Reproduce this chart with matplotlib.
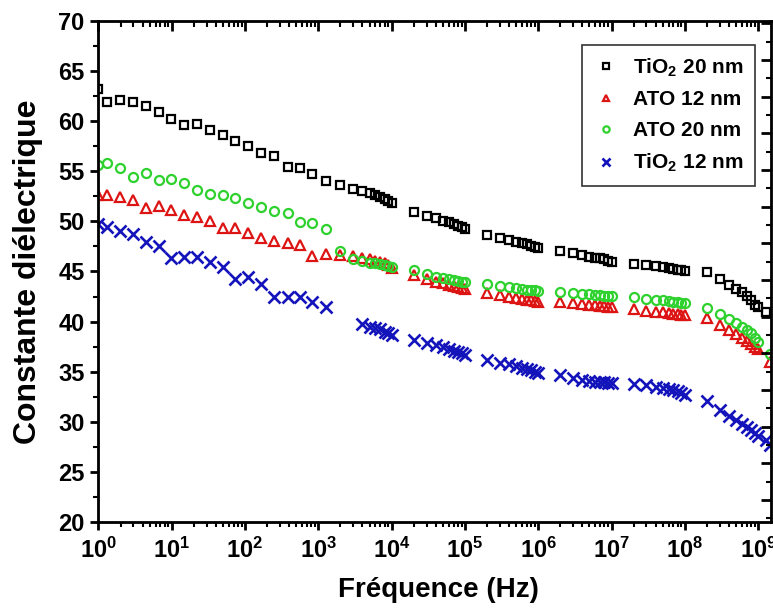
import numpy as np
import matplotlib
matplotlib.use("Agg")
import matplotlib.pyplot as plt
from matplotlib.ticker import MultipleLocator, LogLocator, NullFormatter

plt.rcParams['font.family'] = ['Liberation Sans', 'DejaVu Sans']
plt.rcParams['font.weight'] = 'bold'
plt.rcParams['mathtext.fontset'] = 'custom'
plt.rcParams['mathtext.rm'] = 'Liberation Sans:bold'
plt.rcParams['mathtext.it'] = 'Liberation Sans:bold'
plt.rcParams['mathtext.bf'] = 'Liberation Sans:bold'
plt.rcParams['mathtext.default'] = 'rm'

nan = np.nan

# fréquences (Hz)
freq = [1, 1.32, 1.94, 2.95, 4.44, 6.7, 9.85, 14.6, 21.8, 33, 50, 74, 111, 165, 250, 380, 560, 830, 1260,
        2e3, 3e3, 4e3, 5e3, 6e3, 7e3, 8e3, 9e3, 1e4,
        2e4, 3e4, 4e4, 5e4, 6e4, 7e4, 8e4, 9e4, 1e5,
        2e5, 3e5, 4e5, 5e5, 6e5, 7e5, 8e5, 9e5, 1e6,
        2e6, 3e6, 4e6, 5e6, 6e6, 7e6, 8e6, 9e6, 1e7,
        2e7, 3e7, 4e7, 5e7, 6e7, 7e7, 8e7, 9e7, 1e8,
        2e8, 3e8, 4e8, 5e8, 6e8, 7e8, 8e8, 9e8, 1e9,
        1.3e9, 1.45e9]

tio2_20 = [63.2, 61.95, 62.1, 61.9, 61.5, 60.9, 60.2, 59.6, 59.7, 59.1, 58.65, 58.0, 57.5, 56.8, 56.5, 55.4, 55.3, 54.7, 54.0,
           53.6, 53.2, 53.0, 52.8, 52.6, 52.4, 52.2, 52.0, 51.8,
           50.97, 50.57, 50.31, 50.07, 49.91, 49.74, 49.57, 49.47, 49.24,
           48.64, 48.31, 48.14, 47.97, 47.81, 47.71, 47.57, 47.47, 47.37,
           47.08, 46.81, 46.65, 46.48, 46.38, 46.31, 46.21, 46.05, 45.98,
           45.72, 45.6, 45.5, 45.4, 45.32, 45.25, 45.18, 45.1, 45.05,
           44.98, 44.25, 43.65, 43.25, 42.92, 42.55, 42.2, 41.7, 41.5,
           41.0, nan]

ato_12 = [52.63, 52.63, 52.4, 52.14, 51.3, 51.54, 51.14, 50.64, 50.4, 50.07, 49.3, 49.3, 48.8, 48.3, 48.07, 47.8, 47.64, 46.55, 46.75,
          46.6, 46.5, 46.3, 46.2, 46.0, 45.9, 45.8, 45.6, 45.3,
          44.65, 44.3, 44.0, 43.85, 43.7, 43.6, 43.5, 43.4, 43.3,
          42.82, 42.65, 42.5, 42.4, 42.3, 42.2, 42.15, 42.1, 42.0,
          42.0, 41.85, 41.8, 41.7, 41.65, 41.6, 41.55, 41.5, 41.45,
          41.25, 41.1, 41.0, 40.95, 40.9, 40.8, 40.75, 40.7, 40.65,
          40.33, 39.66, 39.16, 38.8, 38.4, 38.06, 37.8, 37.5, 37.3,
          nan, 36.0]

ato_20 = [55.6, 55.8, 55.3, 54.46, 54.8, 54.13, 54.2, 53.87, 53.13, 52.73, 52.63, 52.3, 51.87, 51.47, 51.07, 50.8, 49.97, 49.8, 49.24,
          47.08, 46.22, 46.0, 45.88, 45.8, 45.75, 45.65, 45.55, 45.48,
          45.15, 44.72, 44.5, 44.35, 44.25, 44.15, 44.05, 44.0, 43.95,
          43.72, 43.55, 43.42, 43.32, 43.25, 43.18, 43.15, 43.12, 43.08,
          43.0, 42.85, 42.78, 42.72, 42.67, 42.63, 42.6, 42.57, 42.55,
          42.42, 42.3, 42.2, 42.15, 42.1, 42.0, 41.95, 41.9, 41.83,
          41.33, 40.76, 40.26, 39.9, 39.5, 39.2, 38.83, 38.33, 38.0,
          nan, 36.8]

tio2_12 = [49.7, 49.4, 49.07, 48.74, 47.97, 47.55, 46.3, 46.4, 46.4, 45.98, 45.4, 44.3, 44.48, 43.8, 42.5, 42.42, 42.42, 42.0, 41.5,
           nan, nan, 39.75, 39.5, 39.35, 39.25, 39.0, 38.85, 38.65,
           38.16, 37.83, 37.66, 37.5, 37.23, 37.1, 36.93, 36.83, 36.67,
           36.17, 35.9, 35.77, 35.57, 35.4, 35.27, 35.17, 35.0, 34.84,
           34.67, 34.34, 34.17, 34.1, 34.0, 34.0, 33.94, 33.9, 33.84,
           33.8, 33.65, 33.5, 33.4, 33.3, 33.2, 33.05, 32.85, 32.65,
           32.1, 31.2, 30.6, 30.2, 29.8, 29.5, 29.2, 28.9, 28.6,
           28.2, 27.7]

fig = plt.figure(figsize=(7.73, 6.13), dpi=100)
ax = fig.add_axes([0.1274, 0.1485, 0.8700, 0.8172])

ax.plot(freq, tio2_20, ls='none', marker='s', ms=5.8, mfc='none', mec='black', mew=1.6, label='TiO$_2$ 20 nm')
ax.plot(freq, ato_12, ls='none', marker='^', ms=7, mfc='none', mec='#dd1414', mew=1.6, label='ATO 12 nm')
ax.plot(freq, ato_20, ls='none', marker='o', ms=6.5, mfc='none', mec='#2ed12e', mew=1.6, label='ATO 20 nm')
ax.plot(freq, tio2_12, ls='none', marker='x', ms=8.5, mec='#1414bb', mew=1.9, label='TiO$_2$ 12 nm')

ax.set_xscale('log')
ax.set_xlim(1, 1.5e9)
ax.set_ylim(20, 70)
ax.xaxis.set_major_locator(LogLocator(base=10, numticks=20))
ax.xaxis.set_minor_locator(LogLocator(base=10, subs=np.arange(2, 10), numticks=20))
ax.xaxis.set_minor_formatter(NullFormatter())
ax.yaxis.set_major_locator(MultipleLocator(5))
ax.yaxis.set_minor_locator(MultipleLocator(2.5))

for s in ax.spines.values():
    s.set_linewidth(2)
ax.tick_params(which='major', direction='out', length=6, width=2, labelsize=17, pad=4)
ax.tick_params(axis='x', which='major', pad=5)
ax.tick_params(which='minor', direction='out', length=3.5, width=1.5)

# ticks miroir (haut / droite) vers l'intérieur
axt = ax.twiny()
axt.set_xscale('log')
axt.set_xlim(ax.get_xlim())
axt.xaxis.set_major_locator(LogLocator(base=10, numticks=20))
axt.xaxis.set_minor_locator(LogLocator(base=10, subs=np.arange(2, 10), numticks=20))
axt.tick_params(which='major', direction='in', length=7, width=2, labeltop=False)
axt.tick_params(which='minor', direction='in', length=4, width=1.5)

axr = ax.twinx()
axr.set_ylim(12.0, 80.3)
axr.yaxis.set_major_locator(MultipleLocator(5))
axr.yaxis.set_minor_locator(MultipleLocator(2.5))
axr.tick_params(which='major', direction='in', length=7, width=2, labelright=False)
axr.tick_params(which='minor', direction='in', length=3.5, width=1.5)

ax.set_xlabel('Fréquence (Hz)', fontsize=20, fontweight='bold')
ax.set_ylabel('Constante diélectrique', fontsize=23, fontweight='bold')
ax.xaxis.set_label_coords(0.505, -0.136)
ax.xaxis.label.set_va('center')
ax.yaxis.set_label_coords(-0.105, 0.5)
ax.yaxis.label.set_va('center')

leg = ax.legend(loc='upper right', bbox_to_anchor=(0.976, 0.952), fontsize=15, markerscale=0.7,
                frameon=True, fancybox=False, edgecolor='black', handlelength=1.2,
                handletextpad=0.7, borderpad=0.55, labelspacing=0.56, borderaxespad=0)
leg.get_frame().set_linewidth(1.2)
leg.set_zorder(5)

fig.savefig('out.png', dpi=100)
